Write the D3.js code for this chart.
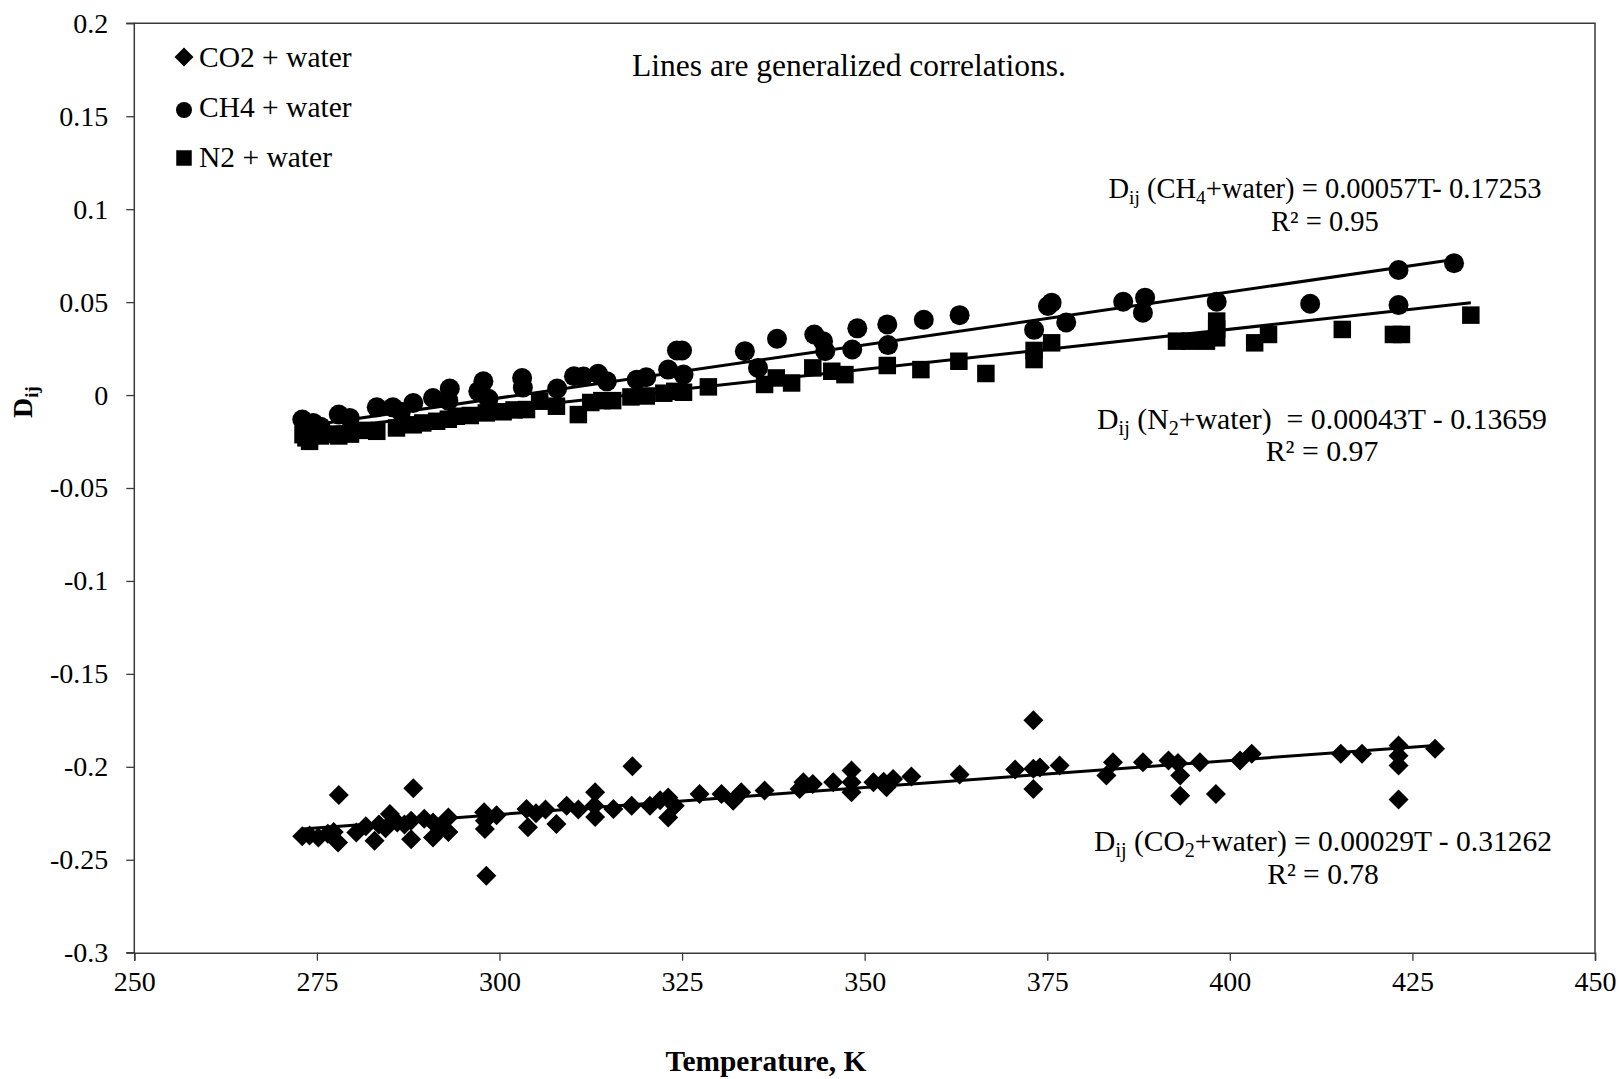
<!DOCTYPE html>
<html>
<head>
<meta charset="utf-8">
<script src="https://cdn.jsdelivr.net/npm/d3@7"></script>
<style>
  body { margin: 0; background: #fff; }
  svg { display: block; }
  text { font-family: "Liberation Serif", "Times New Roman", serif; fill: #000; }
</style>
</head>
<body>
<svg id="chart" width="1621" height="1079"></svg>
<script>
// Axis ticks
const xTicks = [250, 275, 300, 325, 350, 375, 400, 425, 450];
const yTicks = [0.2, 0.15, 0.1, 0.05, 0, -0.05, -0.1, -0.15, -0.2, -0.25, -0.3];
const yTickLabels = ["0.2", "0.15", "0.1", "0.05", "0", "-0.05", "-0.1", "-0.15", "-0.2", "-0.25", "-0.3"];

// Series names (legend order)
const seriesNames = ["CO2 + water", "CH4 + water", "N2 + water"];

// CO2 + water: temperature (K) and binary interaction parameter
const co2T = [273.0, 274.0, 275.2, 276.5, 277.3, 277.9, 278.0, 280.4, 281.7, 282.9, 283.5, 284.4, 285.0, 286.0, 287.0,
  287.9, 287.9, 288.2, 289.7, 290.9, 290.9, 292.0, 293.0, 293.0, 297.9, 298.0, 298.0, 298.2, 299.6, 303.7, 303.9,
  305.0, 306.3, 307.8, 309.2, 310.8, 313.0, 313.1, 313.1, 315.6, 318.1, 318.2, 320.6, 322.0, 323.1, 323.1, 324.0,
  327.4, 330.4, 332.0, 333.1, 336.3, 341.1, 341.6, 342.9, 345.7, 348.2, 348.2, 348.2, 351.2, 352.6, 353.0, 353.9,
  356.4, 363.0, 370.6, 373.1, 373.1, 373.1, 374.0, 376.7, 383.1, 384.0, 388.1, 391.6, 392.9, 393.2, 393.2, 395.9,
  398.1, 401.4, 403.0, 415.2, 418.1, 423.1, 423.1, 423.1, 423.1, 428.1];
const co2D = [-0.2374, -0.237, -0.238, -0.236, -0.235, -0.2407, -0.2151, -0.2353, -0.232, -0.2398, -0.231, -0.233, -0.2254, -0.230, -0.231,
  -0.2389, -0.229, -0.2115, -0.228, -0.238, -0.230, -0.233, -0.2272, -0.235, -0.2245, -0.229, -0.2335, -0.2586, -0.226, -0.2227, -0.2325,
  -0.225, -0.223, -0.2308, -0.221, -0.223, -0.221, -0.2137, -0.227, -0.2227, -0.221, -0.1997, -0.221, -0.218, -0.2165, -0.2273, -0.221,
  -0.2146, -0.2146, -0.2182, -0.2137, -0.2128, -0.2119, -0.2083, -0.2092, -0.2083, -0.202, -0.2083, -0.2137, -0.2083, -0.208, -0.211, -0.2065,
  -0.2052, -0.2041, -0.2015, -0.175, -0.201, -0.2119, -0.2003, -0.1993, -0.2047, -0.1975, -0.1975, -0.1966, -0.198, -0.2047, -0.2155, -0.1975,
  -0.2146, -0.1966, -0.193, -0.193, -0.193, -0.1885, -0.194, -0.1993, -0.2176, -0.1903];

// CH4 + water
const ch4T = [273.0, 274.5, 275.5, 278.0, 279.5, 283.2, 285.4, 286.5, 288.2, 290.9, 293.2, 293.0, 297.1, 297.8, 298.5,
  303.1, 303.2, 307.9, 310.2, 311.5, 313.5, 314.7, 318.8, 320.1, 323.1, 324.3, 325.0, 325.2, 333.6, 335.4, 338.0,
  343.1, 344.3, 344.6, 348.3, 349.0, 353.1, 353.2, 358.1, 363.0, 373.2, 375.1, 375.6, 377.6, 385.4, 388.4, 388.1,
  398.2, 411.0, 423.1, 423.1, 430.7];
const ch4D = [-0.0132, -0.015, -0.017, -0.0105, -0.0123, -0.0066, -0.0066, -0.009, -0.0043, -0.0016, 0.0035, -0.003, 0.002, 0.0074, -0.002,
  0.0092, 0.004, 0.0035, 0.0101, 0.010, 0.0114, 0.0074, 0.0083, 0.0096, 0.0137, 0.024, 0.024, 0.011, 0.0236, 0.0146, 0.0303,
  0.0326, 0.029, 0.0236, 0.0245, 0.0359, 0.038, 0.0269, 0.0405, 0.043, 0.0351, 0.0479, 0.0497, 0.0391, 0.0502, 0.0524, 0.0443,
  0.0502, 0.0491, 0.0673, 0.0484, 0.0709];

// N2 + water
const n2T = [273.1, 273.5, 274.0, 275.5, 277.0, 278.0, 279.6, 281.5, 283.2, 285.9, 288.2, 289.5, 291.4, 293.0, 294.1,
  296.0, 298.2, 300.5, 302.0, 303.7, 305.5, 307.8, 310.8, 312.5, 314.0, 315.5, 318.0, 320.1, 322.5, 324.0, 325.2,
  328.6, 336.3, 337.9, 340.0, 342.9, 345.5, 347.3, 353.1, 357.7, 362.9, 366.6, 373.2, 373.2, 375.6, 392.7, 394.5,
  396.8, 398.2, 398.2, 398.2, 403.4, 405.3, 415.4, 422.4, 423.5, 433.0];
const n2D = [-0.0213, -0.023, -0.0249, -0.022, -0.021, -0.022, -0.021, -0.019, -0.0195, -0.0177, -0.016, -0.015, -0.0141, -0.013, -0.0114,
  -0.011, -0.0096, -0.009, -0.008, -0.0078, -0.0033, -0.006, -0.0105, -0.004, -0.003, -0.003, -0.001, -0.0005, 0.001, 0.002, 0.0015,
  0.0044, 0.0057, 0.0092, 0.0065, 0.0146, 0.0128, 0.011, 0.0159, 0.0137, 0.0182, 0.0116, 0.0191, 0.024, 0.0281, 0.029, 0.029,
  0.029, 0.0308, 0.0355, 0.0398, 0.0281, 0.0326, 0.0353, 0.0326, 0.0326, 0.043];

// Generalized linear correlations D = a*T + b (CO2, CH4, N2)
const fitSlope = [0.00029, 0.00057, 0.00043];
const fitIntercept = [-0.31262, -0.17253, -0.13659];
const fitR2 = ["0.78", "0.95", "0.97"];

// ---------------------------------------------------------------
const svg = d3.select("#chart");
const M = { left: 134.3, right: 1595, top: 23.3, bottom: 952.7 };
const FONT = 28;

const x = d3.scaleLinear().domain([250, 450]).range([M.left, M.right]);
const y = d3.scaleLinear().domain([-0.3, 0.2]).range([M.bottom, M.top]);

const series = [
  { name: seriesNames[0], T: co2T, D: co2D, shape: "diamond", gas: ["CO", "2"], eq: "+water) = ", minus: "T - " },
  { name: seriesNames[1], T: ch4T, D: ch4D, shape: "circle",  gas: ["CH", "4"], eq: "+water) = ", minus: "T- " },
  { name: seriesNames[2], T: n2T,  D: n2D,  shape: "square",  gas: ["N", "2"],  eq: "+water)  = ", minus: "T - " }
];

// Frame (top and right borders)
svg.append("path")
  .attr("d", `M${M.left},${M.top}H${M.right}V${M.bottom}`)
  .attr("fill", "none").attr("stroke", "#3a3a3a").attr("stroke-width", 1.5);

// Axes
const gx = svg.append("g").attr("transform", `translate(0,${M.bottom})`)
  .call(d3.axisBottom(x).tickValues(xTicks).tickSize(8).tickPadding(10).tickFormat(d3.format("d")));
const gy = svg.append("g").attr("transform", `translate(${M.left},0)`)
  .call(d3.axisLeft(y).tickValues(yTicks).tickSize(8).tickPadding(18)
    .tickFormat((d, i) => yTickLabels[i]));
[gx, gy].forEach(g => {
  g.select(".domain").attr("stroke", "#3a3a3a").attr("stroke-width", 1.5);
  g.selectAll(".tick line").attr("stroke", "#3a3a3a").attr("stroke-width", 1.3);
  g.selectAll(".tick text").attr("font-size", FONT)
    .attr("font-family", '"Liberation Serif", "Times New Roman", serif').attr("fill", "#000");
});
gy.select(".domain").attr("d", `M-8,${M.bottom}H0V${M.top}H-8`);

// Marker paths: diamond (half-diagonal), circle (radius), square (side)
function marker(shape, size) {
  if (shape === "diamond") return `M0,${-size}L${size},0L0,${size}L${-size},0Z`;
  if (shape === "circle") {
    const p = d3.path();
    p.arc(0, 0, size, 0, 2 * Math.PI);
    p.closePath();
    return p.toString();
  }
  const h = size / 2;
  return `M${-h},${-h}h${size}v${size}h${-size}Z`;
}
const markerSize = { diamond: 10, circle: 10, square: 17.5 };
const legendMarkerSize = { diamond: 9.5, circle: 8, square: 15.5 };

series.forEach(s => {
  svg.append("g").selectAll("path")
    .data(s.T.map((t, i) => [t, s.D[i]]))
    .join("path")
    .attr("d", marker(s.shape, markerSize[s.shape]))
    .attr("transform", d => `translate(${x(d[0])},${y(d[1])})`)
    .attr("fill", "#000");
});

// Correlation lines across each series' temperature range
series.forEach((s, k) => {
  const [t0, t1] = d3.extent(s.T);
  const f = t => fitSlope[k] * t + fitIntercept[k];
  svg.append("line")
    .attr("x1", x(t0)).attr("y1", y(f(t0)))
    .attr("x2", x(t1)).attr("y2", y(f(t1)))
    .attr("stroke", "#000").attr("stroke-width", 3);
});

// Legend
const legend = svg.append("g");
const legendRows = [
  { yMark: 57, yText: 67 },
  { yMark: 110, yText: 117 },
  { yMark: 158, yText: 167 }
];
series.forEach((s, i) => {
  legend.append("path")
    .attr("d", marker(s.shape, legendMarkerSize[s.shape]))
    .attr("transform", `translate(184,${legendRows[i].yMark})`)
    .attr("fill", "#000");
  legend.append("text")
    .attr("x", 199).attr("y", legendRows[i].yText)
    .attr("font-size", 29.5).text(s.name);
});

// Note
svg.append("text").attr("x", 849).attr("y", 76).attr("text-anchor", "middle")
  .attr("font-size", 31.5).text("Lines are generalized correlations.");

// Equation labels
const eqPos = [
  { cx: 1323, yEq: 851, yR: 884, fs: 29.5 },
  { cx: 1325, yEq: 198, yR: 231, fs: 28.5 },
  { cx: 1322, yEq: 429, yR: 461, fs: 29.8 }
];
series.forEach((s, k) => {
  const fs = eqPos[k].fs, sub = fs * 0.68;
  const t = svg.append("text").attr("x", eqPos[k].cx).attr("y", eqPos[k].yEq)
    .attr("text-anchor", "middle").attr("font-size", fs)
    .style("white-space", "pre");
  t.append("tspan").text("D");
  t.append("tspan").attr("font-size", sub).attr("dy", 6).text("ij");
  t.append("tspan").attr("dy", -6).text(" (" + s.gas[0]);
  t.append("tspan").attr("font-size", sub).attr("dy", 6).text(s.gas[1]);
  t.append("tspan").attr("dy", -6)
    .text(s.eq + d3.format(".5f")(fitSlope[k]) + s.minus + d3.format(".5f")(-fitIntercept[k]));
  svg.append("text").attr("x", eqPos[k].cx).attr("y", eqPos[k].yR)
    .attr("text-anchor", "middle").attr("font-size", fs)
    .text("R\u00B2 = " + fitR2[k]);
});

// Axis titles
svg.append("text").attr("x", 766).attr("y", 1071).attr("text-anchor", "middle")
  .attr("font-size", 29.4).attr("font-weight", "bold").text("Temperature, K");
const yt = svg.append("text").attr("transform", "translate(32,402) rotate(-90)")
  .attr("text-anchor", "middle").attr("font-size", FONT).attr("font-weight", "bold");
yt.append("tspan").text("D");
yt.append("tspan").attr("font-size", 19).attr("dy", 6).text("ij");
</script>
</body>
</html>
